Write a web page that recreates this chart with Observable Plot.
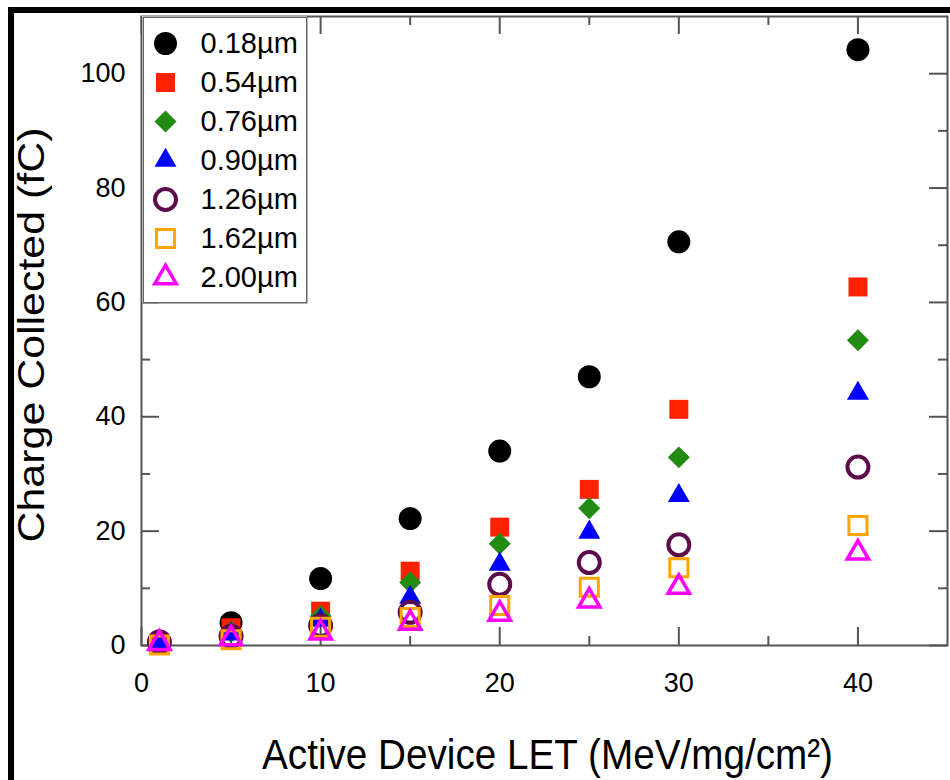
<!DOCTYPE html>
<html>
<head>
<meta charset="utf-8">
<script src="https://cdn.jsdelivr.net/npm/d3@7"></script>
<script src="https://cdn.jsdelivr.net/npm/@observablehq/plot@0.6"></script>
<style>
  html, body { margin: 0; padding: 0; background: #fff; }
  #wrap { position: relative; width: 950px; height: 780px; overflow: hidden; }
  #legend { position: absolute; left: 142px; top: 16px; }
  #border { position: absolute; left: 8px; top: 7px; right: -20px; bottom: -20px;
            border-left: 6px solid #000; border-top: 6px solid #000; pointer-events: none; }
</style>
</head>
<body>
<div id="wrap"><div id="chart"></div><div id="legend"></div><div id="border"></div></div>
<script>
// ---- data ----
const letValues = [1, 5, 10, 15, 20, 25, 30, 40];
const seriesNames = ["0.18\u00b5m", "0.54\u00b5m", "0.76\u00b5m", "0.90\u00b5m", "1.26\u00b5m", "1.62\u00b5m", "2.00\u00b5m"];
const charge018 = [0.8, 4.0, 11.7, 22.2, 34.0, 47.0, 70.6, 104.2];
const charge054 = [0.5, 3.1, 6.0, 13.0, 20.7, 27.3, 41.3, 62.7];
const charge076 = [0.4, 2.4, 5.1, 11.0, 17.8, 24.0, 32.9, 53.4];
const charge090 = [0.3, 2.0, 4.4, 8.4, 14.2, 19.8, 26.2, 44.1];
const charge126 = [0.6, 1.6, 3.5, 5.8, 10.7, 14.5, 17.6, 31.2];
const charge162 = [0.1, 1.0, 3.2, 4.9, 7.0, 10.2, 13.6, 21.0];
const charge200 = [0.4, 1.2, 2.2, 3.9, 5.5, 7.8, 10.2, 16.2];
const seriesValues = [charge018, charge054, charge076, charge090, charge126, charge162, charge200];

const xMajorTicks = [0, 10, 20, 30, 40];
const xMinorTicks = [5, 15, 25, 35];
const yMajorTicks = [0, 20, 40, 60, 80, 100];
const yMinorTicks = [10, 30, 50, 70, 90];

const xTitle = "Active Device LET (MeV/mg/cm\u00b2)";
const yTitle = "Charge Collected (fC)";

// ---- styles ----
const colors  = ["#000000", "#ff2200", "#228b11", "#0000ff", "#5e0b4c", "#ffa500", "#ff00ff"];
const symbols = ["circle", "square", "diamond2", "triangle2", "circle", "square", "triangle2"];
const filled  = [true, true, true, true, false, false, false];
const radii   = [11.5, 10.7, 9.9, 10.5, 10.5, 10.2, 10.2];
const strokeW = [0, 0, 0, 0, 4, 3, 3.5];

const rows = seriesNames.flatMap((name, i) =>
  seriesValues[i].map((v, j) => ({series: name, let: letValues[j], charge: v})));

const W = 950, H = 780, mL = 141, mT = 16, mR = 3, mB = 135;
const frameW = W - mL - mR, frameH = H - mT - mB;
const axisGray = "#555";
const font = "'Liberation Sans', Arial, Helvetica, sans-serif";

function dotOpts(i, extra) {
  return Object.assign({
    symbol: symbols[i], r: radii[i],
    fill: filled[i] ? colors[i] : "none",
    stroke: filled[i] ? "none" : colors[i],
    strokeWidth: strokeW[i] || undefined
  }, extra);
}

const chart = Plot.plot({
  width: W, height: H,
  marginLeft: mL, marginTop: mT, marginRight: mR, marginBottom: mB,
  style: {fontFamily: font, fontSize: "27px", color: "#000", background: "#fff"},
  x: {domain: [0, 45], ticks: xMajorTicks, tickSize: 0, tickPadding: 27, label: null},
  y: {domain: [0, 110], ticks: yMajorTicks, tickSize: 0, tickPadding: 16, label: null},
  marks: [
    Plot.frame({stroke: axisGray, strokeWidth: 2}),
    // inward ticks, bottom & top
    Plot.ruleX(xMajorTicks, {insetTop: frameH - 18, stroke: axisGray, strokeWidth: 2}),
    Plot.ruleX(xMinorTicks, {insetTop: frameH - 9, stroke: axisGray, strokeWidth: 2}),
    Plot.ruleX(xMajorTicks, {insetBottom: frameH - 18, stroke: axisGray, strokeWidth: 2}),
    Plot.ruleX(xMinorTicks, {insetBottom: frameH - 9, stroke: axisGray, strokeWidth: 2}),
    // inward ticks, left & right
    Plot.ruleY(yMajorTicks, {insetRight: frameW - 18, stroke: axisGray, strokeWidth: 2}),
    Plot.ruleY(yMinorTicks, {insetRight: frameW - 9, stroke: axisGray, strokeWidth: 2}),
    Plot.ruleY(yMajorTicks, {insetLeft: frameW - 18, stroke: axisGray, strokeWidth: 2}),
    Plot.ruleY(yMinorTicks, {insetLeft: frameW - 9, stroke: axisGray, strokeWidth: 2}),
    ...seriesNames.map((name, i) =>
      Plot.dot(rows.filter(d => d.series === name), dotOpts(i, {x: "let", y: "charge"}))),
    Plot.text([xTitle], {text: d => d, frameAnchor: "bottom", dx: 3, dy: 123,
      lineAnchor: "bottom", textAnchor: "middle", fontSize: 42, fill: "#000"}),
    Plot.text([yTitle], {text: d => d, frameAnchor: "left", dx: 43 - mL, dy: 4,
      rotate: -90, lineAnchor: "bottom", textAnchor: "middle", fontSize: 36, fill: "#000"})
  ]
});
document.getElementById("chart").appendChild(chart);

// the reference is slightly stretched vertically; match title extents
chart.querySelectorAll("text").forEach(t => {
  if (t.textContent === yTitle) { t.setAttribute("textLength", 415); t.setAttribute("lengthAdjust", "spacingAndGlyphs"); }
  if (t.textContent === xTitle) { t.setAttribute("textLength", 571); t.setAttribute("lengthAdjust", "spacingAndGlyphs"); }
});

const legend = Plot.plot({
  width: 165, height: 287, margin: 0,
  style: {fontFamily: font, fontSize: "29px", color: "#000", background: "#fff", overflow: "visible"},
  y: {type: "point", domain: seriesNames, range: [24, 263], padding: 0, axis: null},
  marks: [
    Plot.frame({stroke: "#666", strokeWidth: 1.5, inset: 0.75}),
    ...seriesNames.map((name, i) =>
      Plot.dot([name], dotOpts(i, {y: d => d, frameAnchor: "left", dx: 23}))),
    Plot.text(seriesNames, {y: d => d, text: d => d, frameAnchor: "left", dx: 58,
      textAnchor: "start", lineAnchor: "middle", fontSize: 29, fill: "#000"})
  ]
});
document.getElementById("legend").appendChild(legend);
</script>
</body>
</html>
